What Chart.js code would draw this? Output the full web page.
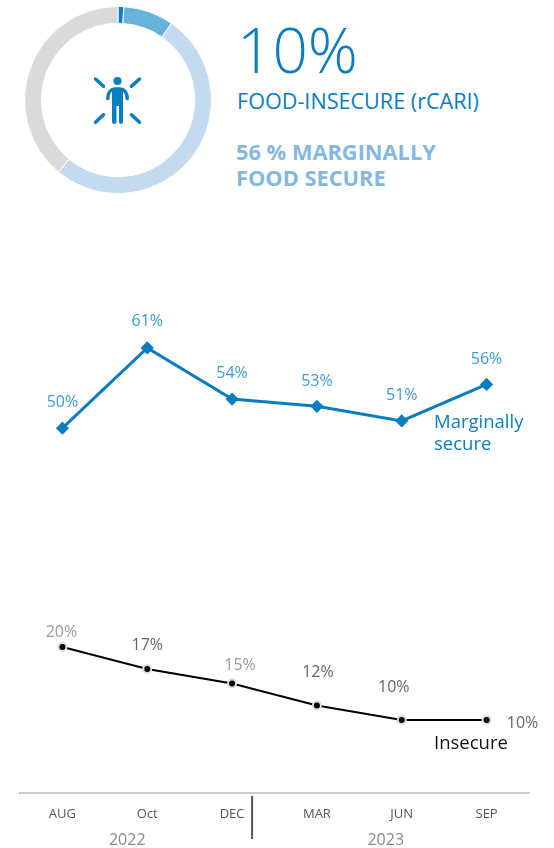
<!DOCTYPE html>
<html>
<head>
<meta charset="utf-8">
<script src="https://cdn.jsdelivr.net/npm/chart.js@4"></script>
<style>
    html, body { margin: 0; padding: 0; background: #fff; }
    body { width: 554px; height: 848px; position: relative; overflow: hidden; font-family: "Open Sans", sans-serif; }
    canvas { position: absolute; }
    #donutChart { left: 24px; top: 6px; }
    #lineChart { left: 0; top: 250px; }
    #icon { position: absolute; left: 88px; top: 70px; }
    .txt { position: absolute; white-space: nowrap; }
    #bigValue { left: 237px; top: 9px; font-size: 62px; line-height: 80px; font-weight: 300; color: #0a7dbf; }
    #subTitle { left: 237px; top: 87px; font-size: 21.6px; line-height: 28px; color: #0a7dbf; }
    #marginal { left: 236px; top: 139px; font-size: 21.8px; line-height: 26px; font-weight: 700; color: #85b8e0; }
</style>
</head>
<body>
<canvas id="donutChart" width="188" height="188"></canvas>
<svg id="icon" width="60" height="60" viewBox="0 0 60 60">
    <g stroke="#0a7dbf" stroke-width="3.5" stroke-linecap="round" fill="none">
        <line x1="7.5" y1="9" x2="15.5" y2="16.3"/>
        <line x1="51.5" y1="9" x2="43.5" y2="16.3"/>
        <line x1="7.5" y1="52.3" x2="15.5" y2="44.8"/>
        <line x1="51.5" y1="52.3" x2="43.5" y2="44.8"/>
        <path d="M19.8 28.5 C19.8 22 23 19 27 19 L32 19 C36 19 39.2 22 39.2 28.5"/>
    </g>
    <circle cx="29.5" cy="11" r="4" fill="#0a7dbf"/>
    <path d="M24 18 L35 18 L35 52 Q35 54 33 54 Q31 54 31 52 L31 36 L28.5 36 L28.5 52 Q28.5 54 26.5 54 Q24 54 24 52 Z" fill="#0a7dbf"/>
</svg>
<div class="txt" id="bigValue">10%</div>
<div class="txt" id="subTitle">FOOD-INSECURE (rCARI)</div>
<div class="txt" id="marginal">56 % MARGINALLY<br>FOOD SECURE</div>
<canvas id="lineChart" width="554" height="598"></canvas>
<script>
const donutValues = [1, 8.7, 51.3, 39];
const donutColors = ["#0a7dbf", "#67b3da", "#c3daef", "#dadada"];

const months = ["AUG", "Oct", "DEC", "MAR", "JUN", "SEP"];
const marginallySecure = [50, 61, 54, 53, 51, 56];
const insecure = [20, 17, 15, 12, 10, 10];
const yearLabels = ["2022", "2023"];

const BLUE = "#0a7dbf";
const marginalLabelColors = Array(6).fill("#3c9bd6");
const insecureLabelColors = ["#999", "#666", "#999", "#666", "#666", "#666"];
const marginalLabelOffsets = [[0, -26], [0, -26], [0, -26], [0, -25], [0, -25], [0, -25]];
const insecureLabelOffsets = [[-1, -15], [0, -24], [8, -18], [1, -33], [-8, -33], [36, 3]];

new Chart(document.getElementById("donutChart").getContext("2d"), {
    type: "doughnut",
    data: {
        datasets: [{
            data: donutValues,
            backgroundColor: donutColors,
            borderColor: "#fff",
            borderWidth: 1
        }]
    },
    options: {
        responsive: false,
        animation: false,
        cutout: "82%",
        plugins: { legend: { display: false }, tooltip: { enabled: false } }
    }
});

// value labels, series names, year labels and the divider on the axis
const annotations = {
    id: "annotations",
    afterDatasetsDraw(chart) {
        const ctx = chart.ctx;
        const x = chart.scales.x;
        const y = chart.scales.y;
        ctx.save();
        ctx.textAlign = "center";
        ctx.textBaseline = "middle";

        ctx.font = "16px 'Open Sans'";
        marginallySecure.forEach((v, i) => {
            ctx.fillStyle = marginalLabelColors[i];
            ctx.fillText(v + "%", x.getPixelForValue(i) + marginalLabelOffsets[i][0], y.getPixelForValue(v) + marginalLabelOffsets[i][1]);
        });
        insecure.forEach((v, i) => {
            ctx.fillStyle = insecureLabelColors[i];
            ctx.fillText(v + "%", x.getPixelForValue(i) + insecureLabelOffsets[i][0], y.getPixelForValue(v) + insecureLabelOffsets[i][1]);
        });

        ctx.textAlign = "left";
        ctx.font = "18.5px 'Open Sans'";
        ctx.fillStyle = BLUE;
        ctx.fillText("Marginally", 434, 173);
        ctx.fillText("secure", 434, 195);
        ctx.fillStyle = "#111";
        ctx.fillText("Insecure", 434, 494);

        ctx.textAlign = "center";
        ctx.font = "16px 'Open Sans'";
        ctx.fillStyle = "#888";
        ctx.fillText(yearLabels[0], x.getPixelForValue(1) - 20, 590);
        ctx.fillText(yearLabels[1], x.getPixelForValue(4) - 16, 590);

        const divider = x.getPixelForValue(2) + 20;
        ctx.strokeStyle = "#555";
        ctx.lineWidth = 2;
        ctx.beginPath();
        ctx.moveTo(divider, 546);
        ctx.lineTo(divider, 589);
        ctx.stroke();
        ctx.restore();
    }
};

new Chart(document.getElementById("lineChart").getContext("2d"), {
    type: "line",
    data: {
        labels: months,
        datasets: [
            {
                label: "Marginally secure",
                data: marginallySecure,
                borderColor: BLUE,
                backgroundColor: BLUE,
                borderWidth: 3,
                pointStyle: "rectRot",
                pointRadius: 4.5,
                tension: 0
            },
            {
                label: "Insecure",
                data: insecure,
                borderColor: "#000",
                backgroundColor: "#000",
                borderWidth: 2,
                pointBorderColor: "#ddd",
                pointBorderWidth: 2,
                pointRadius: 4,
                tension: 0
            }
        ]
    },
    plugins: [annotations],
    options: {
        responsive: false,
        animation: false,
        clip: false,
        layout: { padding: { left: 20, right: 25, top: 33, bottom: 0 } },
        plugins: { legend: { display: false }, tooltip: { enabled: false } },
        scales: {
            x: {
                offset: true,
                afterFit(scale) { scale.height = 55; },
                grid: { display: false },
                border: { color: "#ccc", width: 2 },
                ticks: { color: "#555", padding: 5, font: { family: "'Open Sans'", size: 13 }, maxRotation: 0 }
            },
            y: { display: false, min: 0, max: 69.9 }
        }
    }
});
</script>
</body>
</html>
